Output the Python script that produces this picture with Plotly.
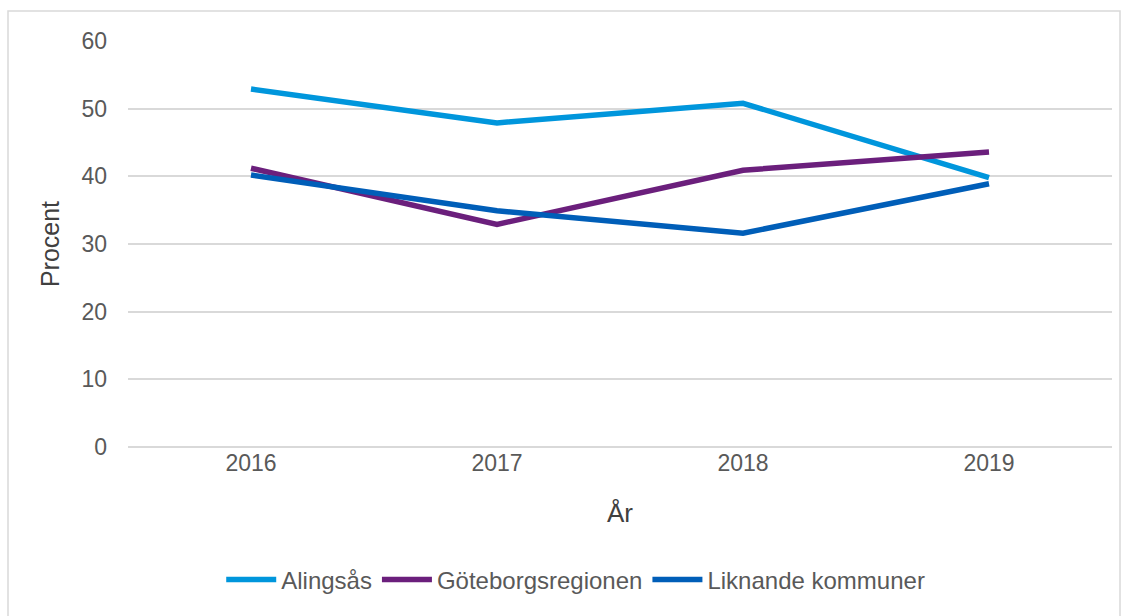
import plotly.graph_objects as go

years = ["2016", "2017", "2018", "2019"]
alingsas = [52.9, 47.9, 50.8, 39.8]
goteborg = [41.2, 32.9, 40.9, 43.6]
liknande = [40.2, 34.9, 31.6, 38.9]

series = [
    ("Alingsås", alingsas, "#0096DC"),
    ("Göteborgsregionen", goteborg, "#6B1F7C"),
    ("Liknande kommuner", liknande, "#005EB8"),
]

fig = go.Figure()
for name, vals, col in series:
    fig.add_trace(go.Scatter(x=years, y=vals, name=name, mode="lines",
                             line=dict(color=col, width=5.5)))

W, H = 1128, 616
L, R, T, B = 128, 16, 41, 169
pw, ph = W - L - R, H - T - B

def px(x):
    return (x - L) / pw

def py(y):
    return (H - B - y) / ph

fig.update_layout(
    width=W, height=H,
    margin=dict(l=L, r=R, t=T, b=B),
    paper_bgcolor="white", plot_bgcolor="white",
    font=dict(family="Liberation Sans, Arial, sans-serif", color="#595959", size=23),
    xaxis=dict(type="category", range=[-0.5, 3.5], showgrid=False, showline=False,
               ticks="", tickfont=dict(size=23, color="#595959"),
               title=dict(text="År", font=dict(size=26, color="#404040"), standoff=28)),
    yaxis=dict(range=[0, 60], dtick=10, showgrid=True, gridcolor="#D9D9D9", gridwidth=1.5,
               zeroline=True, zerolinecolor="#D9D9D9", zerolinewidth=1.5,
               showline=False, ticks="", tickfont=dict(size=23, color="#595959"),
               ticklabelstandoff=20,
               title=dict(text="Procent", font=dict(size=25, color="#404040"), standoff=14)),
    legend=dict(orientation="h", x=0.455, xanchor="center", y=py(580), yanchor="middle",
                font=dict(size=24, color="#595959"), itemwidth=50, tracegroupgap=0),
    showlegend=True,
)

fig.add_shape(type="rect", xref="paper", yref="paper",
              x0=px(8), x1=px(1120), y0=py(640), y1=py(11),
              line=dict(color="#D9D9D9", width=1.5), fillcolor="rgba(0,0,0,0)", layer="below")

fig.write_html("out.html", config={"displayModeBar": False},
               post_script="document.body.style.margin='0';")
